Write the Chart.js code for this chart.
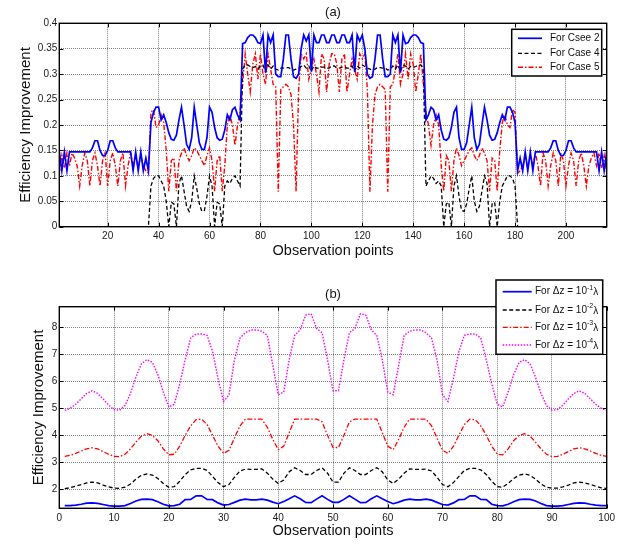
<!DOCTYPE html>
<html>
<head>
<meta charset="utf-8">
<script src="https://cdn.jsdelivr.net/npm/chart.js@4.4.1/dist/chart.umd.min.js"></script>
<style>
  html, body { margin: 0; padding: 0; background: #fff; }
  #wrap { position: relative; width: 627px; height: 545px; }
  .box { position: absolute; left: 0; width: 627px; }
</style>
</head>
<body>
<div id="wrap">
  <div class="box" style="top:0;height:265px"><canvas id="chartA"></canvas></div>
  <div class="box" style="top:265px;height:280px"><canvas id="chartB"></canvas></div>
</div>
<script>
// ---- panel (a) ----
const obsA = Array.from({ length: 216 }, (_, i) => i + 1);
const xTicksA = [20, 40, 60, 80, 100, 120, 140, 160, 180, 200];
const yTicksA = [0, 0.05, 0.1, 0.15, 0.2, 0.25, 0.3, 0.35, 0.4];

const case2 = [
  // 1-36
  0.148,0.11,0.147,0.11,0.147,0.147,0.147,0.147,0.147,0.147,0.147,0.147,0.147,0.155,0.169,0.169,0.15,0.14,0.14,0.15,0.169,0.169,0.155,0.147,0.147,0.147,0.147,0.147,0.147,0.11,0.147,0.11,0.147,0.11,0.135,0.11,
  // 37-72
  0.205,0.225,0.235,0.235,0.21,0.22,0.205,0.185,0.172,0.17,0.18,0.21,0.235,0.2,0.162,0.152,0.175,0.235,0.2,0.165,0.152,0.152,0.175,0.235,0.225,0.195,0.175,0.17,0.172,0.19,0.22,0.21,0.23,0.235,0.22,0.21,
  // 73-108
  0.36,0.362,0.372,0.377,0.377,0.372,0.362,0.36,0.377,0.303,0.377,0.362,0.377,0.3,0.295,0.295,0.33,0.377,0.377,0.33,0.295,0.292,0.3,0.35,0.377,0.365,0.377,0.305,0.377,0.362,0.362,0.377,0.377,0.362,0.362,0.377,
  // 109-144
  0.377,0.362,0.362,0.377,0.377,0.362,0.362,0.377,0.305,0.377,0.365,0.377,0.35,0.3,0.292,0.295,0.33,0.377,0.377,0.33,0.295,0.295,0.3,0.377,0.362,0.377,0.303,0.377,0.36,0.362,0.372,0.377,0.377,0.372,0.362,0.36,
  // 145-180
  0.21,0.22,0.235,0.23,0.21,0.22,0.19,0.172,0.17,0.175,0.195,0.225,0.235,0.175,0.152,0.152,0.165,0.2,0.235,0.175,0.152,0.162,0.2,0.235,0.21,0.18,0.17,0.172,0.185,0.205,0.22,0.21,0.235,0.235,0.225,0.205,
  // 181-216
  0.11,0.135,0.11,0.147,0.11,0.147,0.11,0.147,0.147,0.147,0.147,0.147,0.147,0.155,0.169,0.169,0.15,0.14,0.14,0.15,0.169,0.169,0.155,0.147,0.147,0.147,0.147,0.147,0.147,0.147,0.147,0.147,0.11,0.147,0.11,0.148
];

const case4 = [
  // 1-36
  0,0,0,0,0,0,0,0,0,0,0,0,0,0,0,0,0,0,0,0,0,0,0,0,0,0,0,0,0,0,0,0,0,0,0,0,
  // 37-72
  0.08,0.095,0.1,0.1,0.09,0.08,0.05,0,0.048,0.045,0,0.085,0.1,0.07,0.04,0.03,0.05,0.1,0.075,0.045,0.03,0.032,0.06,0.1,0.08,0,0.048,0.045,0,0.08,0.09,0.085,0.095,0.1,0.09,0.08,
  // 73-108
  0.31,0.318,0.318,0.315,0.313,0.315,0.31,0.316,0.318,0.305,0.318,0.31,0.316,0.31,0.308,0.312,0.312,0.313,0.313,0.31,0.308,0.31,0.312,0.315,0.318,0.312,0.316,0.306,0.316,0.312,0.312,0.314,0.314,0.312,0.312,0.316,
  // 109-144
  0.316,0.312,0.312,0.314,0.314,0.312,0.312,0.316,0.306,0.316,0.312,0.318,0.315,0.312,0.31,0.308,0.31,0.313,0.313,0.312,0.312,0.308,0.31,0.316,0.31,0.318,0.305,0.318,0.316,0.31,0.315,0.313,0.315,0.318,0.318,0.31,
  // 145-180
  0.08,0.09,0.1,0.095,0.085,0.09,0.08,0,0.045,0.048,0,0.08,0.1,0.06,0.032,0.03,0.045,0.075,0.1,0.05,0.03,0.04,0.07,0.1,0.085,0,0.045,0.048,0,0.05,0.08,0.09,0.1,0.1,0.095,0.08,
  // 181-216
  0,0,0,0,0,0,0,0,0,0,0,0,0,0,0,0,0,0,0,0,0,0,0,0,0,0,0,0,0,0,0,0,0,0,0,0
];

const case5 = [
  // 1-36
  0.105,0.14,0.115,0.145,0.12,0.145,0.135,0.12,0.08,0.12,0.145,0.13,0.08,0.13,0.145,0.12,0.08,0.13,0.145,0.08,0.13,0.145,0.12,0.08,0.13,0.145,0.08,0.12,0.145,0.12,0.14,0.115,0.14,0.12,0.11,0.105,
  // 37-72
  0.225,0.23,0.195,0.2,0.22,0.205,0.15,0.07,0.13,0.135,0.07,0.13,0.145,0.155,0.14,0.13,0.14,0.155,0.15,0.14,0.13,0.12,0.14,0.155,0.13,0.07,0.13,0.14,0.07,0.12,0.2,0.22,0.2,0.16,0.2,0.225,
  // 73-108
  0.28,0.34,0.3,0.265,0.32,0.34,0.29,0.34,0.3,0.28,0.34,0.31,0.28,0.275,0.069,0.27,0.275,0.28,0.275,0.26,0.2,0.069,0.27,0.34,0.33,0.34,0.29,0.31,0.33,0.3,0.265,0.34,0.33,0.265,0.32,0.34,
  // 109-144
  0.34,0.32,0.265,0.33,0.34,0.265,0.3,0.33,0.31,0.29,0.34,0.33,0.34,0.27,0.069,0.2,0.26,0.275,0.28,0.275,0.27,0.069,0.275,0.28,0.31,0.34,0.28,0.3,0.34,0.29,0.34,0.32,0.265,0.3,0.34,0.28,
  // 145-180
  0.225,0.2,0.16,0.2,0.22,0.2,0.12,0.07,0.14,0.13,0.07,0.13,0.155,0.14,0.12,0.13,0.14,0.15,0.155,0.14,0.13,0.14,0.155,0.145,0.13,0.07,0.135,0.13,0.07,0.15,0.205,0.22,0.2,0.195,0.23,0.225,
  // 181-216
  0.105,0.11,0.12,0.14,0.115,0.14,0.12,0.145,0.12,0.08,0.145,0.13,0.08,0.12,0.145,0.13,0.08,0.145,0.13,0.08,0.12,0.145,0.13,0.08,0.13,0.145,0.12,0.08,0.12,0.135,0.145,0.12,0.145,0.115,0.14,0.105
];

// ---- panel (b) ----
const obsB = Array.from({ length: 100 }, (_, i) => i + 1);
const xTicksB = [0, 10, 20, 30, 40, 50, 60, 70, 80, 90, 100];
const yTicksB = [2, 3, 4, 5, 6, 7, 8];

const dz1 = [
  1.4,1.4,1.42,1.45,1.49,1.5,1.48,1.44,1.4,1.38,
  1.38,1.4,1.48,1.57,1.63,1.64,1.62,1.54,1.45,1.39,
  1.4,1.45,1.62,1.63,1.76,1.76,1.63,1.62,1.5,1.42,
  1.44,1.52,1.6,1.64,1.61,1.61,1.64,1.6,1.53,1.47,
  1.55,1.65,1.76,1.65,1.52,1.51,1.64,1.76,1.63,1.52,
  1.52,1.63,1.76,1.64,1.51,1.52,1.65,1.76,1.65,1.55,
  1.47,1.53,1.6,1.64,1.61,1.61,1.64,1.6,1.52,1.44,
  1.42,1.5,1.62,1.63,1.76,1.76,1.63,1.62,1.45,1.4,
  1.39,1.45,1.54,1.62,1.64,1.63,1.57,1.48,1.4,1.38,
  1.38,1.4,1.44,1.48,1.5,1.49,1.45,1.42,1.4,1.4
];
const dz2 = [
  2.03,2.06,2.12,2.18,2.24,2.27,2.24,2.16,2.09,2.05,
  2.04,2.08,2.2,2.38,2.52,2.57,2.53,2.4,2.22,2.08,
  2.1,2.3,2.55,2.72,2.78,2.78,2.7,2.48,2.25,2.1,
  2.18,2.45,2.68,2.75,2.74,2.74,2.76,2.6,2.38,2.22,
  2.35,2.65,2.8,2.7,2.55,2.55,2.7,2.8,2.6,2.27,
  2.27,2.6,2.8,2.7,2.55,2.55,2.7,2.8,2.65,2.35,
  2.22,2.38,2.6,2.76,2.74,2.74,2.75,2.68,2.45,2.18,
  2.1,2.25,2.48,2.7,2.78,2.78,2.72,2.55,2.3,2.1,
  2.08,2.22,2.4,2.53,2.57,2.52,2.38,2.2,2.08,2.04,
  2.05,2.09,2.16,2.24,2.27,2.24,2.18,2.12,2.06,2.03
];
const dz3 = [
  3.22,3.26,3.33,3.42,3.5,3.54,3.5,3.4,3.3,3.22,
  3.21,3.3,3.5,3.75,3.97,4.06,4.0,3.8,3.5,3.28,
  3.3,3.6,4.0,4.35,4.58,4.6,4.4,4.0,3.6,3.33,
  3.45,3.9,4.35,4.6,4.6,4.6,4.6,4.3,3.85,3.47,
  3.6,4.1,4.6,4.6,4.6,4.6,4.6,4.5,4.0,3.55,
  3.55,4.0,4.5,4.6,4.6,4.6,4.6,4.6,4.1,3.6,
  3.47,3.85,4.3,4.6,4.6,4.6,4.6,4.35,3.9,3.45,
  3.33,3.6,4.0,4.4,4.6,4.58,4.35,4.0,3.6,3.3,
  3.28,3.5,3.8,4.0,4.06,3.97,3.75,3.5,3.3,3.21,
  3.22,3.3,3.4,3.5,3.54,3.5,3.42,3.33,3.26,3.22
];
const dz4 = [
  4.92,5.0,5.15,5.35,5.55,5.65,5.55,5.35,5.12,4.95,
  4.93,5.1,5.55,6.15,6.65,6.8,6.7,6.25,5.6,5.05,
  5.15,5.9,6.8,7.6,7.75,7.75,7.7,7.1,6.1,5.25,
  5.5,6.8,7.6,7.8,7.9,7.9,7.85,7.7,6.6,5.5,
  5.6,6.8,7.7,7.9,8.45,8.5,7.95,7.8,6.8,5.65,
  5.65,6.8,7.8,7.95,8.5,8.45,7.9,7.7,6.8,5.6,
  5.5,6.6,7.7,7.85,7.9,7.9,7.8,7.6,6.8,5.5,
  5.25,6.1,7.1,7.7,7.75,7.75,7.6,6.8,5.9,5.15,
  5.05,5.6,6.25,6.7,6.8,6.65,6.15,5.55,5.1,4.93,
  4.95,5.12,5.35,5.55,5.65,5.55,5.35,5.15,5.0,4.92
];

const FONT = '"Liberation Sans", Arial, sans-serif';
Chart.defaults.font.family = FONT;
Chart.defaults.font.size = 10;
Chart.defaults.color = '#1a1a1a';

const toXY = (xs, ys) => ys.map((v, i) => ({ x: xs[i], y: v }));

// box, inward ticks, titles and legend, drawn the MATLAB way
const frame = {
  id: 'frame',
  afterDraw(chart, args, o) {
    const { ctx, chartArea: a, scales } = chart;
    ctx.save();
    ctx.setLineDash([]);
    ctx.strokeStyle = '#000';
    ctx.lineWidth = 1;
    ctx.beginPath();
    scales.x.ticks.forEach(t => {
      const px = Math.round(scales.x.getPixelForValue(t.value)) + 0.5;
      ctx.moveTo(px, a.bottom); ctx.lineTo(px, a.bottom - 4);
      ctx.moveTo(px, a.top); ctx.lineTo(px, a.top + 4);
    });
    scales.y.ticks.forEach(t => {
      const py = Math.round(scales.y.getPixelForValue(t.value)) + 0.5;
      ctx.moveTo(a.left, py); ctx.lineTo(a.left + 4, py);
      ctx.moveTo(a.right, py); ctx.lineTo(a.right - 4, py);
    });
    ctx.stroke();
    ctx.lineWidth = 1.4;
    ctx.strokeRect(a.left, a.top, a.width, a.height);

    ctx.fillStyle = '#111';
    ctx.textAlign = 'center';
    ctx.textBaseline = 'middle';
    ctx.font = '13px ' + FONT;
    ctx.fillText(o.title, (a.left + a.right) / 2, o.titleY);
    ctx.font = '14.5px ' + FONT;
    ctx.fillText('Observation points', (a.left + a.right) / 2, o.xTitleY);
    ctx.save();
    ctx.translate(o.yTitleX, (a.top + a.bottom) / 2);
    ctx.rotate(-Math.PI / 2);
    ctx.font = '15px ' + FONT;
    ctx.fillText('Efficiency Improvement', 0, 0);
    ctx.restore();

    // legend
    const L = o.legend;
    ctx.fillStyle = '#fff';
    ctx.fillRect(L.x, L.y, L.w, L.h);
    ctx.lineWidth = 1.5;
    ctx.strokeStyle = '#000';
    ctx.strokeRect(L.x, L.y, L.w, L.h);
    chart.data.datasets.forEach((ds, i) => {
      const y = L.rows[i];
      ctx.beginPath();
      ctx.setLineDash(ds.borderDash || []);
      ctx.strokeStyle = ds.borderColor;
      ctx.lineWidth = ds.borderWidth;
      ctx.moveTo(L.lineX0, y); ctx.lineTo(L.lineX1, y);
      ctx.stroke();
      ctx.setLineDash([]);
      ctx.fillStyle = '#111';
      ctx.textAlign = 'left';
      ctx.font = '10px ' + FONT;
      let x = L.textX;
      ctx.fillText(ds.label, x, y);
      if (ds.sup) {
        x += ctx.measureText(ds.label).width;
        ctx.font = '7px ' + FONT;
        ctx.fillText(ds.sup, x, y - 4);
        x += ctx.measureText(ds.sup).width;
        ctx.font = '10px ' + FONT;
        ctx.fillText('\u03bb', x, y + 1);
      }
    });
    ctx.restore();
  }
};

const gridOpts = { color: 'rgba(0,0,0,0.5)', lineWidth: 1, drawTicks: false };

function baseOptions(xMin, xMax, xTicks, yMin, yMax, yTicks, yFmt, xH, padTop, frameOpts) {
  return {
    responsive: true,
    maintainAspectRatio: false,
    animation: false,
    layout: { padding: { top: padTop, right: 20.3, left: 0, bottom: 0 } },
    elements: { point: { radius: 0 }, line: { tension: 0 } },
    plugins: { legend: { display: false }, tooltip: { enabled: false }, frame: frameOpts },
    scales: {
      x: {
        type: 'linear', min: xMin, max: xMax,
        afterBuildTicks: s => { s.ticks = xTicks.map(v => ({ value: v })); },
        afterFit: s => { s.height = xH; },
        grid: gridOpts,
        border: { display: false, dash: [1, 1] },
        ticks: { padding: 4, maxRotation: 0, autoSkip: false, callback: v => String(v) }
      },
      y: {
        min: yMin, max: yMax,
        afterBuildTicks: s => { s.ticks = yTicks.map(v => ({ value: v })); },
        afterFit: s => { s.width = 59.3; },
        grid: gridOpts,
        border: { display: false, dash: [1, 1] },
        ticks: { padding: 2, autoSkip: false, callback: yFmt }
      }
    }
  };
}

new Chart(document.getElementById('chartA'), {
  type: 'line',
  data: {
    datasets: [
      { label: 'For Csee 2', data: toXY(obsA, case2), borderColor: '#0000ff', borderWidth: 1.7 },
      { label: 'For Case 4', data: toXY(obsA, case4), borderColor: '#000000', borderWidth: 1.3, borderDash: [4, 2.5] },
      { label: 'For Case 5', data: toXY(obsA, case5), borderColor: '#ff0000', borderWidth: 1.4, borderDash: [5, 2, 1.5, 2] }
    ]
  },
  options: baseOptions(1, 216, xTicksA, 0, 0.4, yTicksA, v => String(+v.toFixed(2)), 38.3, 23.3, {
    title: '(a)', titleY: 12.5, xTitleY: 251, yTitleX: 26,
    legend: { x: 511.7, y: 29.3, w: 90, h: 46.7, rows: [38.3, 53.3, 67.3], lineX0: 518, lineX1: 542, textX: 550 }
  }),
  plugins: [frame]
});

new Chart(document.getElementById('chartB'), {
  type: 'line',
  data: {
    datasets: [
      { label: 'For \u0394z = 10', sup: '-1', data: toXY(obsB, dz1), borderColor: '#0000ff', borderWidth: 1.7 },
      { label: 'For \u0394z = 10', sup: '-2', data: toXY(obsB, dz2), borderColor: '#000000', borderWidth: 1.3, borderDash: [4, 2.5] },
      { label: 'For \u0394z = 10', sup: '-3', data: toXY(obsB, dz3), borderColor: '#ff0000', borderWidth: 1.3, borderDash: [5, 2, 1.5, 2] },
      { label: 'For \u0394z = 10', sup: '-4', data: toXY(obsB, dz4), borderColor: '#ff00ff', borderWidth: 1.4, borderDash: [1.5, 1.5] }
    ]
  },
  options: baseOptions(0, 100, xTicksB, 1.3, 8.76, yTicksB, v => String(v), 36.7, 41.7, {
    title: '(b)', titleY: 29, xTitleY: 266, yTitleX: 39,
    legend: { x: 496, y: 15, w: 106.7, h: 74.3, rows: [26.7, 45, 62.3, 80], lineX0: 502.7, lineX1: 531.7, textX: 535 }
  }),
  plugins: [frame]
});
</script>
</body>
</html>
